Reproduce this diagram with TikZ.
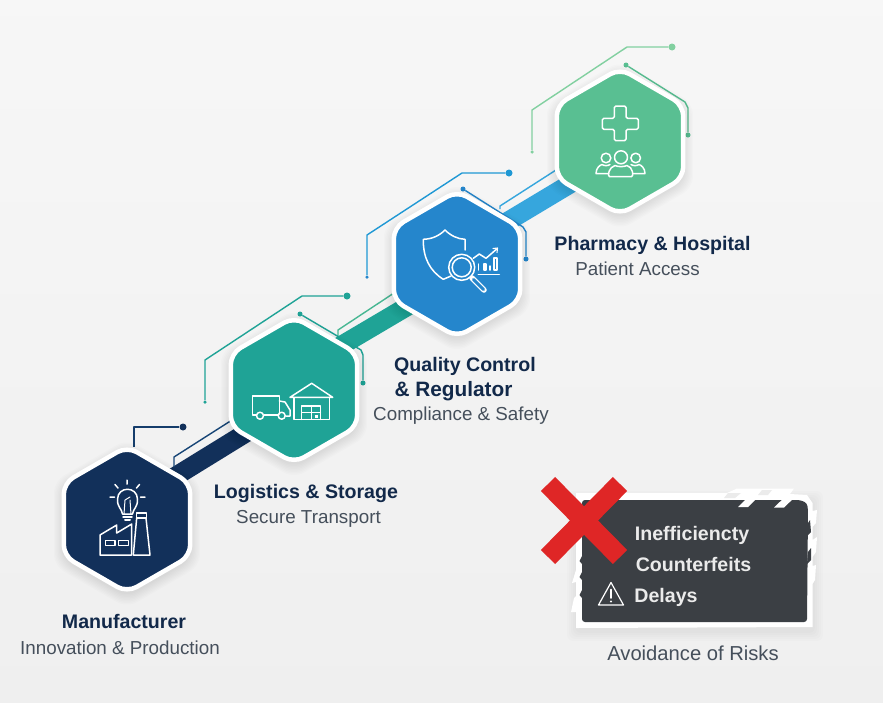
\documentclass[tikz,border=0pt]{standalone}
\usepackage{fontspec}
\setmainfont{Liberation Sans}
\definecolor{navy}{HTML}{12305A}
\definecolor{tealc}{HTML}{1FA396}
\definecolor{bluec}{HTML}{2586CC}
\definecolor{greenc}{HTML}{59BF92}
\definecolor{bandblue}{HTML}{36A6DD}
\definecolor{inkc}{HTML}{12294A}
\definecolor{subc}{HTML}{454F5B}
\definecolor{paneld}{HTML}{3B3F44}
\definecolor{redx}{HTML}{DF2626}
\definecolor{lgreen}{HTML}{82D0A0}
\tikzset{
  hexn/.style={regular polygon,regular polygon sides=6,shape border rotate=30,minimum size=146pt,inner sep=0pt,outer sep=0pt,draw=white,line width=4.5pt,rounded corners=11pt},
  hexshadow/.style={regular polygon,regular polygon sides=6,shape border rotate=30,inner sep=0pt,outer sep=0pt,fill=black,fill opacity=0.012,rounded corners=12pt},
  band/.style={line width=19pt},
  thin/.style={line width=1.4pt,line join=round},
  dotbig/.style={circle,inner sep=0pt,minimum size=7pt},
  dotsmall/.style={circle,inner sep=0pt,minimum size=5pt},
  icon/.style={draw=white,line width=1.5pt,line join=round,line cap=round},
  head/.style={font=\bfseries\fontsize{19.6}{22}\selectfont,text=inkc,inner sep=0pt,anchor=base},
  sub/.style={font=\fontsize{18.8}{20}\selectfont,text=subc,inner sep=0pt,anchor=base},
  risk/.style={font=\bfseries\fontsize{19.6}{22}\selectfont,text=white!92!black,inner sep=0pt,anchor=base},
}
\newcommand{\hexshadowat}[1]{%
  \foreach \s in {148,151,154,157,160,163,166,169}{\node[hexshadow,minimum size=\s pt] at ($#1+(0,4)$) {};}%
}
\usetikzlibrary{shapes.geometric,calc}
\begin{document}
\begin{tikzpicture}[x=1pt,y=-1pt]
\useasboundingbox (0,0) rectangle (883,702);
\shade[shading=axis,shading angle=-25,top color=white!98!black,bottom color=white!92.5!black] (-300,-300) rectangle (1183,1002);
\useasboundingbox (0,0) rectangle (883,702);

% anchors of the bands and leaders
\coordinate (b1a) at (150,492); \coordinate (b1b) at (262,423);
\coordinate (b2a) at (320,358); \coordinate (b2b) at (425,296);
\coordinate (b3a) at (485,235); \coordinate (b3b) at (590,172);

% bands
\draw[band,navy] (b1a) -- (b1b);
\draw[band,tealc] (b2a) -- (b2b);
\draw[band,bandblue] (b3a) -- (b3b);

% thin parallel leaders
\draw[thin,draw=navy!75!bluec] (174,467) -- (174,457) -- (232,420);
\draw[thin,draw=greenc!70!tealc] (338,337) -- (338,330) -- (394,293);
\draw[thin,draw=bandblue] (500,209) -- (500,206) -- (556,170);

% leaders
\node[dotbig,fill=navy] (d1) at (183,427) {};
\draw[thin,draw=navy!85!bluec] (134,447) -- (134,427) -- (d1);
\node[dotsmall,fill=tealc,minimum size=3.5pt] (d2s) at (205,402) {};
\node[dotbig,fill=tealc] (d2) at (347,296) {};
\draw[thin,draw=tealc] (d2s) -- (205,360) -- (302,296) -- (d2);
\node[dotsmall,fill=tealc] (d2a) at (300,314) {};
\node[dotsmall,fill=tealc] (d2b) at (363,383) {};
\draw[thin,draw=tealc] (d2a) -- (361,350) -- (363,355) -- (d2b);
\node[dotsmall,fill=bluec,minimum size=3.5pt] (d3s) at (367,277) {};
\node[dotbig,fill=bluec!85!cyan] (d3) at (509,173) {};
\draw[thin,draw=bluec!85!cyan] (d3s) -- (367,235) -- (462,173) -- (d3);
\node[dotsmall,fill=bluec] (d3a) at (463,189) {};
\node[dotsmall,fill=bluec] (d3b) at (526,259) {};
\draw[thin,draw=bluec] (d3a) -- (523,227) -- (526,232) -- (d3b);
\node[dotsmall,fill=lgreen,minimum size=3.5pt] (d4s) at (532,152) {};
\node[dotbig,fill=lgreen] (d4) at (672,47) {};
\draw[thin,draw=lgreen] (d4s) -- (532,110) -- (627,47) -- (d4);
\node[dotsmall,fill=greenc] (d4a) at (626,65) {};
\node[dotsmall,fill=greenc] (d4b) at (688,135) {};
\draw[thin,draw=greenc] (d4a) -- (685,102) -- (688,108) -- (d4b);

% hexagons
\hexshadowat{(127,519.5)}
\hexshadowat{(294,390)}
\hexshadowat{(457,264)}
\hexshadowat{(620,141.5)}
\node[hexn,fill=navy] (h1) at (127,519.5) {};
\node[hexn,fill=tealc] (h2) at (294,390) {};
\node[hexn,fill=bluec] (h3) at (457,264) {};
\node[hexn,fill=greenc] (h4) at (620,141.5) {};

% bulb and factory icon
\draw[icon] (122.5,514) .. controls (122,509) and (117,507) .. (117.5,499) .. controls (118,486) and (137,486) .. (137.5,499) .. controls (138,507) and (133,509) .. (132.5,514) -- cycle;
\draw[icon,line width=1pt] (124,514) -- (125,500) (131,514) -- (130,500) (125,500) -- (130,497);
\draw[icon] (123,517) -- (132,517);
\draw[icon,line width=2pt] (125,520) -- (130,520);
\draw[icon] (127,480) -- (127,484) (115,484.5) -- (118,488) (139.5,484.5) -- (136.5,488) (110,497) -- (114.5,497) (140.5,497) -- (145,497);
\draw[icon] (100,555) -- (100,535) -- (116.7,525) -- (116.7,533) -- (131.7,524) -- (131.7,555) -- cycle;
\draw[icon] (133.3,555) -- (136.7,518) -- (146,518) -- (150,555) -- cycle;
\draw[icon] (136.5,513) rectangle (146.5,518);
\draw[icon] (105.7,540.7) rectangle (115,545.7) (118.3,540.7) rectangle (128.3,545.7);

% truck and warehouse icon
\draw[icon] (256.5,415) -- (252.7,415) -- (252.7,396) -- (279.3,396) -- (279.3,414);
\draw[icon] (264,415) -- (278,415);
\draw[icon] (279.3,401) -- (285,402) -- (290,410) -- (290,416) -- (286,416);
\draw[icon] (260,415.7) circle[radius=3.5pt] (281.7,415.7) circle[radius=3.5pt];
\draw[icon] (290,397.3) -- (311.7,383.3) -- (332.7,397.3) -- cycle;
\draw[icon] (294,398) -- (294,419.3) -- (329.3,419.3) -- (329.3,398);
\draw[icon] (301.7,419.3) -- (301.7,406) -- (320.7,406) -- (320.7,419.3);
\draw[icon,line width=1pt] (301.7,412.7) -- (320.7,412.7) (311,406) -- (311,419.3);
\fill[white] (314.5,414.5) rectangle (317.5,417.5);

% shield, magnifier and chart icon
\draw[icon] (451,276) -- (443.3,279.3) .. controls (430,271) and (423,258) .. (423.3,239.3) .. controls (432,239) and (439,236) .. (445,230) .. controls (451,236) and (458,239) .. (465,239.3) -- (465,250);
\draw[icon] (461.7,267.3) circle[radius=13pt];
\draw[icon] (461.7,267.3) circle[radius=9.5pt];
\draw[icon,line width=5.5pt] (472,278) -- (484,290);
\draw[draw=bluec,line width=3pt,line cap=round] (473.5,279.5) -- (483.5,289.5);
\draw[icon] (473.3,258.3) -- (479.3,254) -- (486,258.3) -- (496.7,249);
\draw[icon,line width=1.1pt] (493,248.5) -- (497.5,248) -- (497,252.5);
\draw[icon] (478.3,264) -- (478.3,270) (484,264) rectangle (486,270) (490,266) -- (490,270) (494,258) rectangle (497,270);
\draw[icon] (478.3,274.3) -- (499.3,274.3);

% cross and people icon
\draw[icon,rounded corners=1.5pt] (614.3,106) -- (626,106) -- (626,118.3) -- (638.3,118.3) -- (638.3,129.3) -- (626,129.3) -- (626,140.7) -- (614.3,140.7) -- (614.3,129.3) -- (602.3,129.3) -- (602.3,118.3) -- (614.3,118.3) -- cycle;
\draw[icon] (621,157.3) circle[radius=6.5pt] (606,158) circle[radius=4.8pt] (635.7,158) circle[radius=4.8pt];
\draw[icon] (609.5,176.7) -- (631.5,176.7) .. controls (634,176.5) and (633,167) .. (627,165.5) .. controls (624,167) and (618,167) .. (615,165.5) .. controls (609,167) and (607,176) .. (609.5,176.7) -- cycle;
\draw[icon] (608.5,173.5) -- (596,173.5) .. controls (596,168) and (600,165) .. (602,164.5) .. controls (604,166) and (608,166) .. (610,164.5);
\draw[icon] (633,173.5) -- (645,173.5) .. controls (645,168) and (641,165) .. (639,164.5) .. controls (637,166) and (633,166) .. (631,164.5);

% texts
\node[head] (t1) at (124,628) {Manufacturer};
\node[sub] (s1) at (120,654) {Innovation \& Production};
\node[head] (t2) at (306,498.5) {Logistics \& Storage};
\node[sub] (s2) at (308.5,523) {Secure Transport};
\node[head] (t3a) at (465,371) {Quality Control};
\node[head,font=\bfseries\fontsize{20.8}{22}\selectfont] (t3b) at (453.5,396) {\& Regulator};
\node[sub] (s3) at (461,420.5) {Compliance \& Safety};
\node[head] (t4) at (652.5,250) {Pharmacy \& Hospital};
\node[sub] (s4) at (637.5,275) {Patient Access};

% risk panel
\foreach \s in {0,2,4,6,8}{\fill[black,opacity=.012,rounded corners=6pt] (575-\s,494-\s+5) rectangle (815+\s,628+\s+5);}
\fill[white] (576,493) -- (727,493) -- (737,488.5) -- (794,488.5) -- (790,494) -- (807,495) -- (812.5,503) -- (812.5,511) -- (817,510) -- (816,523) -- (812.5,527) -- (812.5,540) -- (817,537) -- (816,552) -- (812.5,557) -- (812.5,566) -- (816,565) -- (815,580) -- (812.5,584) -- (812.5,627) -- (576,628) -- (576,612) -- (571,612) -- (574,598) -- (576,596) -- (576,582) -- (572,583) -- (576,570) -- (576,493) -- cycle;
\fill[paneld,rounded corners=3pt] (582,500) -- (800,500) -- (807,503) -- (808,510) -- (807,622) -- (582,622) -- cycle;
\fill[white] (738,507) -- (750,495) -- (760,495) -- (748,507) -- cycle;
\fill[white] (774,507.5) -- (786,496) -- (796,496) -- (784,507.5) -- cycle;
\fill[black!8] (728,493) -- (741,493) -- (735,498) -- (724,498) -- cycle;
\fill[black!8] (762,490) -- (772,490) -- (768,495) -- (758,495) -- cycle;
\fill[paneld] (808,523) -- (810,520) -- (811,532) -- (807,536) -- cycle;
\fill[paneld] (808,552) -- (811,548) -- (811,560) -- (807,564) -- cycle;
\fill[paneld] (582,556) -- (579.5,561) -- (582,564) -- cycle;
\fill[paneld] (582,572) -- (579.5,577) -- (582,580) -- cycle;
\fill[paneld] (582,590) -- (579.5,595) -- (582,598) -- cycle;

\draw[redx,line width=20pt] (548,484) -- (620,557);
\draw[redx,line width=20pt] (620,484) -- (548,557);

\node[risk] (r1) at (692,540) {Inefficiencty};
\node[risk] (r2) at (693.5,571) {Counterfeits};
\node[risk] (r3) at (666,602) {Delays};
\draw[icon,line width=1.2pt] (611,582.5) -- (623.5,605) -- (598.5,605) -- cycle;
\draw[icon,line width=1.8pt] (611,589.5) -- (611,598);
\fill[white] (611,601.5) circle[radius=1.2pt];
\node[sub,font=\fontsize{20.2}{22}\selectfont] (cap) at (693,660) {Avoidance of Risks};
\end{tikzpicture}
\end{document}
